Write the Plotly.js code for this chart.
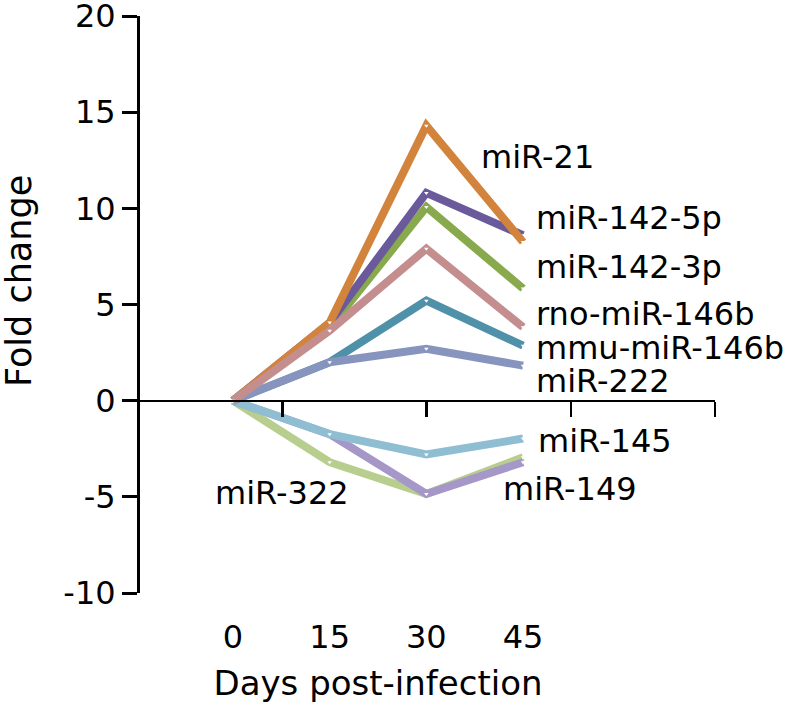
<!DOCTYPE html>
<html>
<head>
<meta charset="utf-8">
<script src="https://cdn.plot.ly/plotly-3.0.1.min.js"></script>
<style>html,body{margin:0;padding:0;background:#fff;}</style>
</head>
<body>
<div id="chart" style="width:800px;height:708px;"></div>
<script>
// ---- data ----
const days = [0, 15, 30, 45];
const dayLabels = ['0', '15', '30', '45'];
const yTicks = [-10, -5, 0, 5, 10, 15, 20];
const yTickLabels = ['-10', '-5', '0', '5', '10', '15', '20'];
const seriesNames = ['miR-322', 'miR-149', 'miR-145', 'miR-142-3p', 'miR-142-5p', 'miR-21', 'mmu-miR-146b', 'miR-222', 'rno-miR-146b'];
const mir322 = [0, -3.2, -4.85, -2.94];
const mir149 = [0, -1.74, -4.85, -3.2];
const mir145 = [0, -1.74, -2.8, -1.97];
const mir142_3p = [0, 3.8, 10.07, 5.83];
const mir142_5p = [0, 4.05, 10.8, 8.6];
const mir21 = [0, 4.06, 14.3, 8.25];
const mmuMir146b = [0, 2.0, 5.2, 2.86];
const mir222 = [0, 2.0, 2.7, 1.82];
const rnoMir146b = [0, 3.64, 7.9, 3.82];
const seriesValues = [mir322, mir149, mir145, mir142_3p, mir142_5p, mir21, mmuMir146b, mir222, rnoMir146b];

// ---- styles ----
const colors = ['#B7CE8F', '#A597C7', '#8FBED2', '#88A94C', '#6A5A9C', '#D2843C', '#4F91A9', '#8794BE', '#C48E8E'];
// label anchor positions (x in days, y in fold change), left-anchored
const labelPos = {
  'miR-21': [38.2, 12.66],
  'miR-142-5p': [46.7, 9.48],
  'miR-142-3p': [46.7, 6.93],
  'rno-miR-146b': [46.7, 4.53],
  'mmu-miR-146b': [46.7, 2.76],
  'miR-222': [46.7, 1.04],
  'miR-145': [47.0, -2.08],
  'miR-149': [41.6, -4.58],
  'miR-322': [-3.1, -4.79]
};
const FONT = 'DejaVu Sans, Arial, sans-serif';
const xDomain = [0.1473, 0.6846];
const xRange = [-1.546, 46.546];
function dayToPaper(d) {
  return xDomain[0] + (d - xRange[0]) / (xRange[1] - xRange[0]) * (xDomain[1] - xDomain[0]);
}

const traces = seriesNames.map((name, i) => ({
  type: 'scatter', mode: 'lines+markers', name: name,
  x: days, y: seriesValues[i],
  xaxis: 'x', yaxis: 'y',
  line: {color: colors[i], width: 8},
  marker: {symbol: 'triangle-down', size: 4, color: '#ffffff', line: {width: 0}},
  showlegend: false, hoverinfo: 'name+y', cliponaxis: false
}));
// empty trace so the zero-level axis (x2) is created
traces.unshift({type: 'scatter', x: [], y: [], xaxis: 'x2', yaxis: 'y', showlegend: false});

const annotations = seriesNames.map(name => ({
  x: dayToPaper(labelPos[name][0]), y: labelPos[name][1], xref: 'paper', yref: 'y',
  text: name, showarrow: false, xanchor: 'left', yanchor: 'middle',
  font: {family: FONT, size: 32, color: '#000'}
}));
// y-axis title (placed as rotated text, as in the reference it sits above the axis centre)
annotations.push({
  x: -0.206, y: 0.541, xref: 'paper', yref: 'paper', textangle: -90,
  text: 'Fold change', showarrow: false, xanchor: 'center', yanchor: 'middle',
  font: {family: FONT, size: 35, color: '#000'}
});

const layout = {
  width: 800, height: 708,
  margin: {l: 138, r: 85, t: 16, b: 115},
  paper_bgcolor: '#fff', plot_bgcolor: 'rgba(0,0,0,0)',
  font: {family: FONT, color: '#000'},
  xaxis: {
    domain: xDomain, range: xRange, anchor: 'y',
    showline: false, zeroline: false, showgrid: false,
    tickmode: 'array', tickvals: days, ticktext: dayLabels, ticks: '',
    ticklabelstandoff: 22,
    tickfont: {family: FONT, size: 32, color: '#000'},
    title: {text: 'Days post-infection', font: {family: FONT, size: 34, color: '#000'}, standoff: 16}
  },
  xaxis2: {
    domain: [0, 1], range: [0, 4], anchor: 'free', position: 1/3,
    showline: true, linecolor: '#000', linewidth: 2.5, zeroline: false, showgrid: false,
    tickmode: 'array', tickvals: [1, 2, 3, 4], ticks: 'outside', ticklen: 15, tickwidth: 2.5, tickcolor: '#000',
    showticklabels: false, layer: 'below traces'
  },
  yaxis: {
    domain: [0, 1], range: [-10, 20], anchor: 'free', position: 0,
    showline: true, linecolor: '#000', linewidth: 3, zeroline: false, showgrid: false,
    tickmode: 'array', tickvals: yTicks, ticktext: yTickLabels, ticks: 'outside', ticklen: 15, tickwidth: 3, tickcolor: '#000',
    ticklabeloverflow: 'allow',
    tickfont: {family: FONT, size: 32, color: '#000'}
  },
  annotations: annotations
};

Plotly.newPlot('chart', traces, layout, {staticPlot: true, displayModeBar: false});
</script>
</body>
</html>
